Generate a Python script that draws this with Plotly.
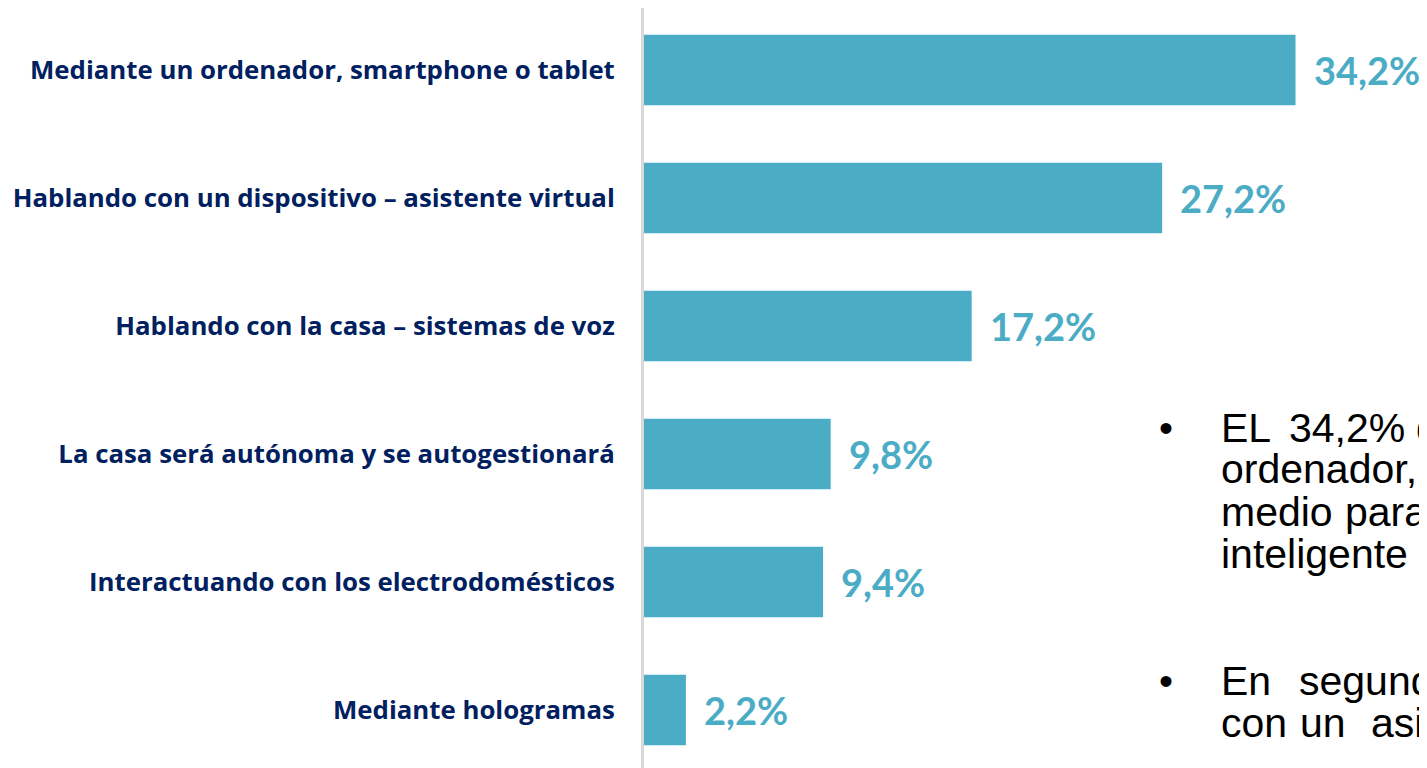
import plotly.graph_objects as go

# ---- data ----
categories = [
    "Mediante un ordenador, smartphone o tablet",
    "Hablando con un dispositivo – asistente virtual",
    "Hablando con la casa – sistemas de voz",
    "La casa será autónoma y se autogestionará",
    "Interactuando con los electrodomésticos",
    "Mediante hologramas",
]
values = [34.2, 27.2, 17.2, 9.8, 9.4, 2.2]
value_labels = ["34,2%", "27,2%", "17,2%", "9,8%", "9,4%", "2,2%"]

# side text (partially cut off at the right edge in the original)
side_lines = [
    ["EL", "34,2%", "de"],
    ["ordenador,"],
    ["medio", "para"],
    ["inteligente", "del"],
    ["En", "segundo"],
    ["con", "un", "asistente"],
]

# ---- layout constants (the page body adds an 8px margin) ----
OFF = 8
W, H = 1427 - OFF, 768 - OFF
ML, MR, MT, MB = 644 - OFF, 21, 0, 0
PW, PH = W - ML - MR, H - MT - MB

BAR = "#4BACC6"
NAVY = "#002060"

fig = go.Figure(
    go.Bar(
        x=values,
        y=categories,
        orientation="h",
        marker=dict(color=BAR, line=dict(width=0)),
        width=0.55,
        hoverinfo="skip",
    )
)

for c, v, t in zip(categories, values, value_labels):
    fig.add_annotation(
        x=v, y=c, xref="x", yref="y", text=t, showarrow=False,
        xanchor="left", yanchor="middle", xshift=16, yshift=0,
        font=dict(family="Lato", size=38, color=BAR, weight="bold"),
    )


def px_x(p):
    return (p - OFF - ML) / PW


def px_y(p):
    return 1 - (p - OFF - MT) / PH


# word positions (screen pixel x start) and line middles for the justified side text
word_x = [
    [1219, 1287, 1414],
    [1219],
    [1219, 1343],
    [1219, 1418],
    [1219, 1297],
    [1219, 1298, 1369],
]
line_mid = [428, 469, 512, 554, 681, 723]
bullet_lines = [0, 4]

for words, xs, ym in zip(side_lines, word_x, line_mid):
    for w, xp in zip(words, xs):
        fig.add_annotation(
            x=px_x(xp), y=px_y(ym), xref="paper", yref="paper", text=w,
            showarrow=False, xanchor="left", yanchor="middle",
            font=dict(family="Liberation Sans, Arial", size=41, color="#000000"),
        )
for li in bullet_lines:
    fig.add_annotation(
        x=px_x(1166), y=px_y(line_mid[li]), xref="paper", yref="paper", text="•",
        showarrow=False, xanchor="center", yanchor="middle",
        font=dict(family="Liberation Sans, Arial", size=40, color="#000000"),
    )

c0 = 70 - OFF
top = -(c0 - MT) / 128
bottom = (H - MB - c0) / 128

fig.update_layout(
    width=W, height=H,
    margin=dict(l=ML, r=MR, t=MT, b=MB, pad=0),
    paper_bgcolor="white", plot_bgcolor="white",
    showlegend=False,
    xaxis=dict(range=[0, 40], visible=False, showgrid=False, zeroline=False, fixedrange=True),
    yaxis=dict(
        type="category",
        categoryorder="array", categoryarray=categories,
        range=[bottom, top],
        showline=True, linecolor="#D9D9D9", linewidth=3,
        showgrid=False, zeroline=False, ticks="",
        ticklabelstandoff=21,
        tickfont=dict(family="Open Sans", size=25.8, color=NAVY, weight="bold"),
        fixedrange=True,
    ),
)

fig.write_html("out.html")
